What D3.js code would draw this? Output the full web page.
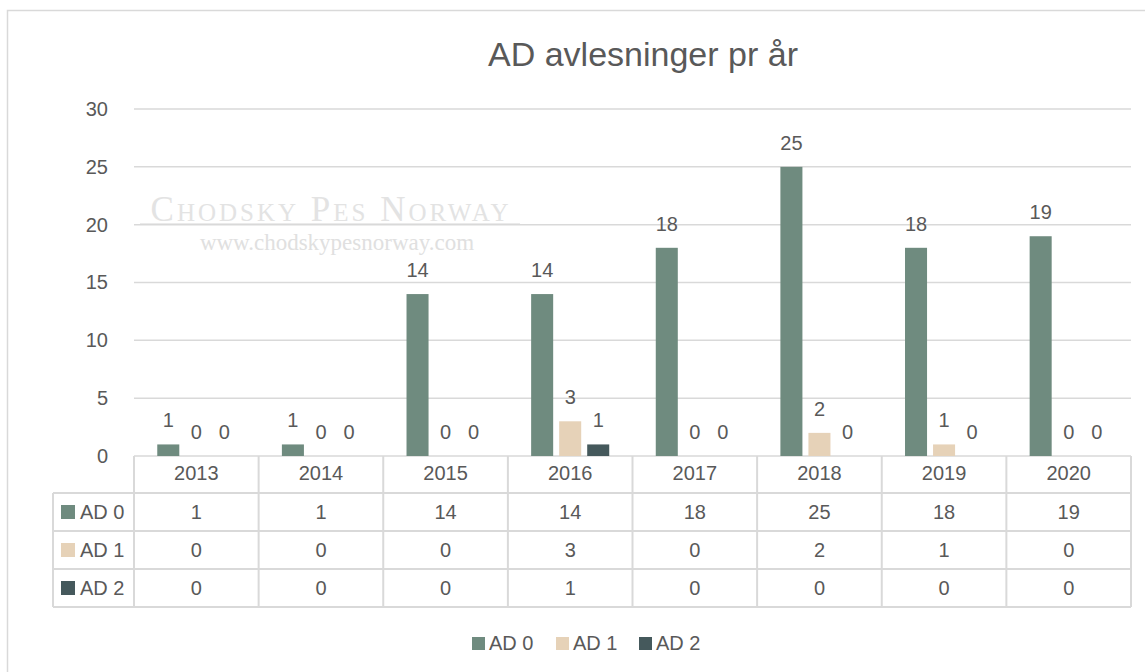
<!DOCTYPE html>
<html>
<head>
<meta charset="utf-8">
<script src="https://cdn.jsdelivr.net/npm/d3@7"></script>
<style>
  body { margin: 0; background: #fff; }
  text { font-family: "Liberation Sans", Arial, sans-serif; fill: #595959; }
</style>
</head>
<body>
<div id="chart"></div>
<script>
// chart data
const years = ["2013", "2014", "2015", "2016", "2017", "2018", "2019", "2020"];
const seriesNames = ["AD 0", "AD 1", "AD 2"];
const ad0 = [1, 1, 14, 14, 18, 25, 18, 19];
const ad1 = [0, 0, 0, 3, 0, 2, 1, 0];
const ad2 = [0, 0, 0, 1, 0, 0, 0, 0];
const yTicks = [0, 5, 10, 15, 20, 25, 30];
const colors = ["#6f8b7f", "#e6d2b8", "#45595c"];

const seriesValues = [ad0, ad1, ad2];

const W = 1145, H = 672;
const fs = "20px";
const svg = d3.select("#chart").append("svg")
  .attr("width", W).attr("height", H);

// outer chart border
svg.append("rect")
  .attr("x", 7.5).attr("y", 10.5)
  .attr("width", W).attr("height", H)
  .attr("fill", "none").attr("stroke", "#d9d9d9").attr("stroke-width", 1.5);

// title
svg.append("text")
  .attr("x", 643).attr("y", 66)
  .attr("text-anchor", "middle")
  .style("font-size", "34px")
  .text("AD avlesninger pr år");

// watermark
const wm = svg.append("g");
wm.append("text")
  .attr("x", 331).attr("y", 221)
  .attr("text-anchor", "middle")
  .style("font-family", "'Liberation Serif', 'DejaVu Serif', serif")
  .style("fill", "#e3e3e3")
  .style("font-size", "35px")
  .style("font-variant", "small-caps")
  .style("letter-spacing", "3px")
  .text("Chodsky  Pes  Norway");
wm.append("line")
  .attr("x1", 140).attr("x2", 520).attr("y1", 224).attr("y2", 224)
  .attr("stroke", "#e3e3e3").attr("stroke-width", 1.5);
wm.append("text")
  .attr("x", 337).attr("y", 250)
  .attr("text-anchor", "middle")
  .style("font-family", "'Liberation Serif', 'DejaVu Serif', serif")
  .style("fill", "#e0e0e0")
  .style("font-size", "23px")
  .text("www.chodskypesnorway.com");

// scales
const plotL = 134, plotR = 1131, plotT = 109, plotB = 456;
const x = d3.scaleBand().domain(years).range([plotL, plotR]);
const x1 = d3.scaleBand().domain(seriesNames)
  .range([0, x.bandwidth()]).paddingInner(0.214).paddingOuter(0.83);
const y = d3.scaleLinear().domain([0, 30]).range([plotB, plotT]);

// gridlines
svg.append("g").selectAll("line").data(yTicks).join("line")
  .attr("x1", plotL).attr("x2", plotR)
  .attr("y1", d => y(d)).attr("y2", d => y(d))
  .attr("stroke", "#d9d9d9").attr("stroke-width", 1.5);

// y axis labels
const yAxis = svg.append("g")
  .attr("transform", `translate(${plotL - 22},0)`)
  .call(d3.axisLeft(y).tickValues(yTicks).tickSize(0).tickPadding(4));
yAxis.select(".domain").remove();
yAxis.selectAll("text")
  .style("font-family", "'Liberation Sans', Arial, sans-serif")
  .style("font-size", fs).attr("fill", "#595959");

// bars
const groups = svg.append("g").selectAll("g").data(seriesNames).join("g")
  .attr("fill", (d, i) => colors[i]);
groups.each(function (name, si) {
  const g = d3.select(this);
  const vals = seriesValues[si];
  g.selectAll("rect").data(vals).join("rect")
    .attr("x", (d, i) => x(years[i]) + x1(name))
    .attr("width", x1.bandwidth())
    .attr("y", d => y(d))
    .attr("height", d => y(0) - y(d));
  svg.append("g").selectAll("text").data(vals).join("text")
    .attr("x", (d, i) => x(years[i]) + x1(name) + x1.bandwidth() / 2)
    .attr("y", d => y(d) - 17)
    .attr("text-anchor", "middle")
    .style("font-size", fs)
    .text(d => d);
});

// data table
const rowH = 38;
const headTop = plotB, headBot = 493;
const tableLeft = 53;
const tbl = svg.append("g");
const lineColor = "#d9d9d9";
tbl.selectAll("line.hv").data(d3.range(years.length + 1)).join("line")
  .attr("x1", i => plotL + i * x.step()).attr("x2", i => plotL + i * x.step())
  .attr("y1", headTop).attr("y2", headBot + rowH * 3)
  .attr("stroke", lineColor).attr("stroke-width", 2);
tbl.append("line")
  .attr("x1", tableLeft).attr("x2", tableLeft)
  .attr("y1", headBot).attr("y2", headBot + rowH * 3)
  .attr("stroke", lineColor).attr("stroke-width", 2);
tbl.append("g").selectAll("line").data(d3.range(4)).join("line")
  .attr("x1", tableLeft).attr("x2", plotR)
  .attr("y1", i => headBot + i * rowH).attr("y2", i => headBot + i * rowH)
  .attr("stroke", lineColor).attr("stroke-width", 2);

// year labels
tbl.append("g").selectAll("text").data(years).join("text")
  .attr("x", d => x(d) + x.bandwidth() / 2)
  .attr("y", headTop + 24)
  .attr("text-anchor", "middle")
  .style("font-size", fs)
  .text(d => d);

// rows
seriesNames.forEach((name, si) => {
  const cy = headBot + si * rowH + rowH / 2;
  tbl.append("rect")
    .attr("x", 61).attr("y", cy - 7).attr("width", 14).attr("height", 14)
    .attr("fill", colors[si]);
  tbl.append("text")
    .attr("x", 80).attr("y", cy + 7)
    .style("font-size", fs)
    .text(name);
  tbl.append("g").selectAll("text").data(seriesValues[si]).join("text")
    .attr("x", (d, i) => x(years[i]) + x.bandwidth() / 2)
    .attr("y", cy + 7)
    .attr("text-anchor", "middle")
    .style("font-size", fs)
    .text(d => d);
});

// legend
const legendX = [472, 556, 639];
const legend = svg.append("g").selectAll("g").data(seriesNames).join("g")
  .attr("transform", (d, i) => `translate(${legendX[i]},637)`);
legend.append("rect")
  .attr("width", 13).attr("height", 13)
  .attr("fill", (d, i) => colors[i]);
legend.append("text")
  .attr("x", 17).attr("y", 13)
  .style("font-size", fs)
  .text(d => d);
</script>
</body>
</html>
